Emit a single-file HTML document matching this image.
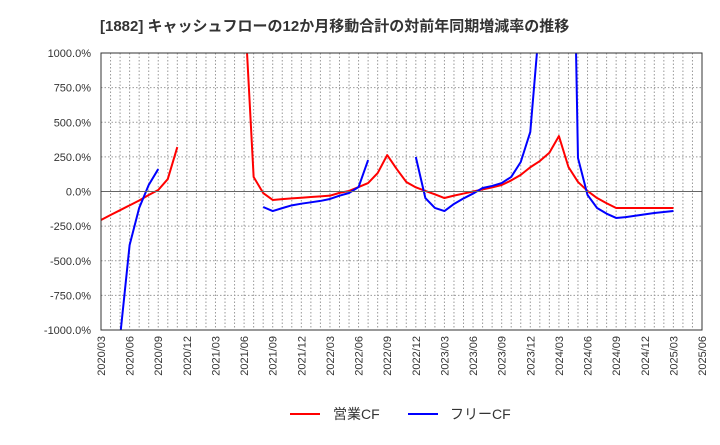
<!DOCTYPE html>
<html><head><meta charset="utf-8"><style>
body{margin:0;background:#fff;font-family:"Liberation Sans","Noto Sans CJK JP",sans-serif}
</style></head><body>
<svg id="c" width="720" height="440" xmlns="http://www.w3.org/2000/svg" font-family="Liberation Sans, Noto Sans CJK JP, sans-serif">
<text x="100" y="31" font-size="15" font-weight="bold" fill="#333">[1882]  キャッシュフローの12か月移動合計の対前年同期増減率の推移</text>
<defs><clipPath id="clip"><rect x="101" y="53" width="601" height="277"/></clipPath></defs>
<g id="grid"></g><g id="series" clip-path="url(#clip)"></g><g id="axes"></g>
<g>
<line x1="290" y1="414" x2="320" y2="414" stroke="#f00" stroke-width="2"/>
<text x="333" y="419" font-size="14" fill="#333">営業CF</text>
<line x1="408" y1="414" x2="438" y2="414" stroke="#00f" stroke-width="2"/>
<text x="450" y="419" font-size="14" fill="#333">フリーCF</text>
</g>
</svg>
<script>
const yTicks=[1000,750,500,250,0,-250,-500,-750,-1000];
const startYear=2020, startMonth=3, nMonths=63;
// monthly values, index = months since 2020/03; null = gap
const opCF=[-206,-170,-135,-100,-65,-25,11,90,321,null,null,null,null,null,null,1400,105,-11,-61,-55,-50,-45,-40,-35,-30,-10,4,32,61,133,263,162,69,30,4,-20,-47,-30,-15,0,15,30,47,80,120,175,220,280,400,177,69,4,-47,-85,-119,-119,-119,-119,-119,-119,-119];
const freeCF=[null,null,-1050,-386,-119,47,162,null,null,null,null,null,null,null,null,null,null,-112,-141,-120,-100,-88,-78,-68,-54,-30,-11,32,227,null,null,null,null,249,-47,-119,-141,-90,-50,-15,25,40,61,105,213,430,1250,3000,5000,4000,242,-25,-119,-160,-191,-185,-175,-165,-155,-148,-141];
const L=101,R=702,T=53,B=330;
const X=m=>L+(R-L)*m/nMonths;
const Y=v=>T+(B-T)*(1000-v)/2000;
const NS="http://www.w3.org/2000/svg";
function mk(tag,attrs,parent){const e=document.createElementNS(NS,tag);for(const k in attrs)e.setAttribute(k,attrs[k]);parent.appendChild(e);return e;}
const grid=document.getElementById('grid'),axes=document.getElementById('axes'),ser=document.getElementById('series');
for(let m=1;m<nMonths;m++){const l=mk('line',{x1:X(m),x2:X(m),y1:T,y2:B,stroke:'#999','stroke-dasharray':'1.5,2','stroke-width':1},grid);

}
yTicks.forEach(v=>{
 if(v!==0&&v!==1000&&v!==-1000){const g=mk('line',{x1:L,x2:R,y1:Y(v),y2:Y(v),stroke:'#999','stroke-dasharray':'1.5,2'},grid);
 
 }
 const t=mk('text',{x:91,y:Y(v)+4,'text-anchor':'end','font-size':11,fill:'#333'},axes);
 t.textContent=v.toFixed(1)+'%';
 
 
});
const z=mk('line',{x1:L,x2:R,y1:Y(0),y2:Y(0),stroke:'#666','stroke-width':1},axes);


const fr=mk('rect',{x:L,y:T,width:R-L,height:B-T,fill:'none',stroke:'#333','stroke-width':1},axes);


for(let m=0;m<=nMonths;m+=3){
 const mo=(startMonth-1+m)%12+1, yr=startYear+Math.floor((startMonth-1+m)/12);
 const lbl=yr+'/'+String(mo).padStart(2,'0');
 const t=mk('text',{x:0,y:0,'text-anchor':'end','font-size':11,fill:'#333',transform:`translate(${X(m)+4},${B+6}) rotate(-90)`},axes);
 t.textContent=lbl;
 
 
}
function draw(arr,color,name){
 let seg=[];const segs=[];
 arr.forEach((v,i)=>{if(v===null){if(seg.length)segs.push(seg);seg=[];}else seg.push([X(i),Y(v)]);});
 if(seg.length)segs.push(seg);
 segs.forEach(s=>{const p=mk('polyline',{points:s.map(q=>q.join(',')).join(' '),fill:'none',stroke:color,'stroke-width':2,'stroke-linejoin':'round'},ser);
 
 });
}
draw(opCF,'#f00','operating-cf-line');
draw(freeCF,'#00f','free-cf-line');
</script>
</body></html>
